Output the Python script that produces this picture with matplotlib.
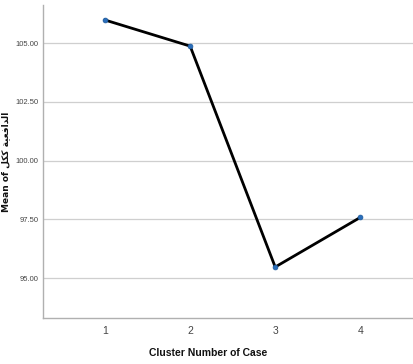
import matplotlib
matplotlib.use("Agg")
import matplotlib.pyplot as plt
from matplotlib.ticker import FormatStrFormatter

# cluster means
clusters = [1, 2, 3, 4]
means = [105.98, 104.87, 95.47, 97.58]
y_ticks = [95.0, 97.5, 100.0, 102.5, 105.0]

# Arabic part of the label, pre-shaped in visual order ("الدافعية ككل")
ar_label = "\uFEDE\uFEDC\uFEDB \uFE94\uFEF4\uFECC\uFED3\uFE8D\uFEAA\uFEDF\uFE8D"

narrow = ["Liberation Sans Narrow", "Liberation Sans", "DejaVu Sans"]

fig = plt.figure(figsize=(4.13, 3.64), dpi=100)
ax = fig.add_axes([43 / 413, 46 / 364, 1 - 43 / 413, 1 - 51 / 364])

ax.plot(clusters, means, color="black", lw=2, zorder=3)
ax.plot(clusters, means, "o", ms=3.5, mfc="#2a6ebb", mec="#1d5a9c", mew=0.5, zorder=4)

ax.set_xlim(0.27, 4.62)
ax.set_ylim(93.3, 106.62)
ax.set_xticks(clusters)
ax.set_yticks(y_ticks)
ax.yaxis.set_major_formatter(FormatStrFormatter("%.2f"))
ax.tick_params(length=0, colors="#444444")
for lab in ax.get_yticklabels():
    lab.set_fontfamily(narrow)
    lab.set_fontsize(5.5)
for lab in ax.get_xticklabels():
    lab.set_fontfamily(narrow)
    lab.set_fontsize(7.5)
ax.tick_params(axis="x", pad=6)
ax.tick_params(axis="y", pad=3)

ax.grid(axis="y", color="#cfcfcf", lw=0.9)
ax.set_axisbelow(True)
for side in ["top", "right"]:
    ax.spines[side].set_visible(False)
for side in ["left", "bottom"]:
    ax.spines[side].set_color("#b0b0b0")
    ax.spines[side].set_linewidth(1.0)

ax.set_xlabel("Cluster Number of Case", fontfamily=narrow, fontsize=7.5,
              fontweight="bold", color="#111111")
ax.xaxis.set_label_coords((208 - 43) / 370, -30 / 313)
ax.set_ylabel("Mean of " + ar_label, fontfamily=["DejaVu Sans"], fontsize=6.5,
              fontweight="bold", color="#111111")
ax.yaxis.set_label_coords(-33 / 370, 0.5)

fig.savefig("out.png", dpi=100)
